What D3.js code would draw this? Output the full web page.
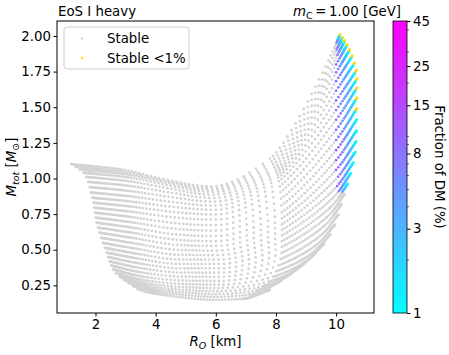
<!DOCTYPE html>
<html><head><meta charset="utf-8">
<script src="https://cdn.jsdelivr.net/npm/d3@7"></script>
<style>body{margin:0;background:#fff}text{font-family:"DejaVu Sans",sans-serif;fill:#000}</style>
</head><body><svg id="c" width="449" height="355"></svg>
<script>
// ---------------- data ----------------
// Key rows of the mesh: row index and control points (R in km, M in Msun) at stations along each row
const keyRowIndex = [0, 3, 8, 14, 19, 24, 29];
const stationV = [0, 0.15, 0.35, 0.55, 0.75, 0.9, 1];
const keyRowR = [
  [1.20, 2.80, 4.40, 5.85, 7.80, 9.97, 10.13],
  [1.60, 3.00, 4.50, 5.90, 7.95, 10.00, 10.37],
  [1.89, 3.10, 4.60, 6.00, 8.10, 10.00, 10.70],
  [2.08, 3.20, 4.70, 6.00, 8.20, 10.00, 10.67],
  [2.37, 3.35, 4.80, 6.10, 8.20, 9.75, 10.28],
  [2.68, 3.50, 4.90, 6.10, 7.90, 9.00, 9.60],
  [3.40, 3.90, 4.90, 5.90, 6.90, 7.40, 7.80]
];
const keyRowM = [
  [1.100, 1.065, 0.990, 0.945, 1.140, 1.930, 2.010],
  [1.040, 1.010, 0.950, 0.905, 1.080, 1.800, 1.940],
  [0.865, 0.840, 0.800, 0.780, 0.980, 1.480, 1.700],
  [0.655, 0.620, 0.570, 0.560, 0.720, 1.060, 1.260],
  [0.480, 0.440, 0.400, 0.400, 0.520, 0.740, 0.890],
  [0.335, 0.290, 0.260, 0.255, 0.310, 0.420, 0.540],
  [0.225, 0.195, 0.165, 0.148, 0.155, 0.185, 0.220]
];
const nRows = 30;
// dot positions along each row
const colV = [
  0, .004, .008, .012, .016, .020, .024, .028, .032, .036, .041, .046, .051, .056, .061, .067, .073, .079, .085, .091, .098, .105, .112, .119, .126, .134, .142, .150,
  .160, .171, .183, .196, .210, .225, .241, .258, .276, .294, .312, .331, .350,
  .370, .390, .410, .430, .450, .470, .490, .510, .530, .550, .570, .590, .610, .630, .650, .670, .690, .710, .730, .750,
  .7575, .765, .7725, .78, .7875, .795, .8025, .81, .8175, .825, .8325, .84, .8475, .855, .8625, .87, .8775, .885, .8925, .900,
  .909, .918, .926, .934, .941, .948, .954, .960, .965, .970, .975, .979, .983, .987, .990, .993, .996, 1.0];
// DM fraction (%) of each column
const colFrac = [
  45, 44.7, 44.4, 44.1, 43.8, 43.5, 43.2, 42.9, 42.6, 42.3, 42, 41.6, 41.2, 40.8, 40.4, 40, 39.6, 39.2, 38.8, 38.4, 38, 37.5, 37, 36.5, 36, 35.5, 35, 34.5,
  34, 33.4, 32.8, 32.2, 31.6, 31, 30.4, 29.8, 29.2, 28.6, 28, 27.4, 26.8,
  26.2, 25.6, 25, 24.4, 23.8, 23.2, 22.6, 22, 21.4, 20.8, 20.2, 19.6, 19, 18.4, 17.8, 17.2, 16.6, 16, 15.4, 14.8,
  14.4, 14, 13.6, 13.2, 12.8, 12.4, 12, 11.7, 11.4, 11.1, 10.8, 10.5, 10.2, 9.9, 9.6, 9.3, 9.0, 8.7, 8.4, 8.1,
  7.2, 6.3, 5.5, 4.8, 4.2, 3.7, 3.25, 2.85, 2.5, 2.2, 1.95, 1.7, 1.5, 1.32, 1.17, 1.04, 0.92, 0.8];
const rowFracScale = [1, 1, 1, 1, 1, 1, 1.01, 1.02, 1.03, 1.04, 1.06, 1.08,
  1.26, 1.27, 1.28, 1.29, 1.3, 1.31, 1.32, 1.33, 1.34, 1.35, 1.36, 1.37, 1.38, 1.39, 1.4, 1.41, 1.42, 1.43];
const colorMinR = 10.0, colorMinM = 0.9;
const xTicks = [2, 4, 6, 8, 10];
const yTicks = [0.25, 0.50, 0.75, 1.00, 1.25, 1.50, 1.75, 2.00];
const cbTicks = [1, 3, 8, 15, 25, 45];
const cbMinor = [2, 4, 5, 6, 7, 9, 10, 20, 30, 40];
const titleLeft = "EoS I heavy";
const legendLabels = ["Stable", "Stable <1%"];
const cbLabel = "Fraction of DM (%)";

// ---------------- helpers: monotone (Steffen) cubic through typed control points ----------------
function mono(ts, ps, t) {
  const n = ts.length;
  let k = 0; while (k < n - 2 && t > ts[k + 1]) k++;
  const d = i => (ps[i + 1] - ps[i]) / (ts[i + 1] - ts[i]);
  const slope = i => {
    if (i === 0) return d(0);
    if (i === n - 1) return d(n - 2);
    const h0 = ts[i] - ts[i - 1], h1 = ts[i + 1] - ts[i], d0 = d(i - 1), d1 = d(i);
    const p = (d0 * h1 + d1 * h0) / (h0 + h1);
    return (Math.sign(d0) + Math.sign(d1)) * Math.min(Math.abs(d0), Math.abs(d1), 0.5 * Math.abs(p));
  };
  const t0 = ts[k], h = ts[k + 1] - t0, s = (t - t0) / h, s2 = s * s, s3 = s2 * s;
  return (2*s3 - 3*s2 + 1) * ps[k] + (s3 - 2*s2 + s) * h * slope(k) + (-2*s3 + 3*s2) * ps[k + 1] + (s3 - s2) * h * slope(k + 1);
}
const cool = t => { t = Math.max(0, Math.min(1, t)); return d3.rgb(255 * t, 255 * (1 - t), 255).formatHex(); };

const pts = [];
for (let i = 0; i < nRows; i++) {
  const rR = stationV.map((_, s) => mono(keyRowIndex, keyRowR.map(r => r[s]), i));
  const rM = stationV.map((_, s) => mono(keyRowIndex, keyRowM.map(r => r[s]), i));
  colV.forEach((v, j) => {
    pts.push({R: mono(stationV, rR, v), M: mono(stationV, rM, v), f: colFrac[j] * rowFracScale[i]});
  });
}

// ---------------- drawing ----------------
const svg = d3.select("#c");
svg.append("rect").attr("width", 449).attr("height", 355).attr("fill", "#fff");
const L = 57, Rt = 374, T = 21, B = 313;
const x = d3.scaleLinear().domain([0.72, 11.26]).range([L, Rt]);
const y = d3.scaleLinear().domain([0.056, 2.105]).range([B, T]);
const cbScale = d3.scaleLog().domain([1, 45]).range([B, T]);

const isCol = p => p.R >= colorMinR && p.M >= colorMinM;
const g = svg.append("g");
g.append("g").selectAll("circle").data(pts.filter(p => !isCol(p))).join("circle")
  .attr("cx", d => x(d.R)).attr("cy", d => y(d.M)).attr("r", 1.35).attr("fill", "#d3d3d3");
g.append("g").selectAll("circle").data(pts.filter(p => isCol(p) && p.f >= 1)).join("circle")
  .attr("cx", d => x(d.R)).attr("cy", d => y(d.M)).attr("r", 1.35)
  .attr("fill", d => cool(Math.log(d.f) / Math.log(45)));
g.append("g").selectAll("circle").data(pts.filter(p => isCol(p) && p.f < 1)).join("circle")
  .attr("cx", d => x(d.R)).attr("cy", d => y(d.M)).attr("r", 1.35).attr("fill", "#ffd700");

// axes
const fs = "13.33px";
const ax = svg.append("g").attr("transform", `translate(0,${B})`)
  .call(d3.axisBottom(x).tickValues(xTicks).tickFormat(d3.format("d")).tickSize(3.5).tickPadding(3.5));
const ay = svg.append("g").attr("transform", `translate(${L},0)`)
  .call(d3.axisLeft(y).tickValues(yTicks).tickFormat(d3.format(".2f")).tickSize(3.5).tickPadding(2.5));
[ax, ay].forEach(a => {
  a.select(".domain").remove();
  a.selectAll("line").attr("stroke", "#000").attr("stroke-width", 1);
  a.selectAll("text").attr("font-size", fs).attr("font-family", "DejaVu Sans").attr("fill", "#000");
});
svg.append("rect").attr("x", L).attr("y", T).attr("width", Rt - L).attr("height", B - T)
  .attr("fill", "none").attr("stroke", "#000").attr("stroke-width", 1);

// titles
svg.append("text").attr("x", 58).attr("y", 16).attr("font-size", fs).text(titleLeft);
const tr = svg.append("text").attr("x", 401).attr("y", 16).attr("font-size", fs).attr("text-anchor", "end");
tr.append("tspan").attr("font-style", "italic").text("m");
tr.append("tspan").attr("dy", 2.5).attr("font-size", "9.5px").text("C");
tr.append("tspan").attr("dy", -2.5).text("\u2009=\u20091.00 [GeV]");

// axis labels
const xl = svg.append("text").attr("x", (L + Rt) / 2).attr("y", 346).attr("font-size", fs).attr("text-anchor", "middle");
xl.append("tspan").attr("font-style", "italic").text("R");
xl.append("tspan").attr("dy", 2.5).attr("font-size", "9.5px").attr("font-style", "italic").text("O");
xl.append("tspan").attr("dy", -2.5).text(" [km]");
const yl = svg.append("text").attr("transform", `translate(16,${(T + B) / 2}) rotate(-90)`).attr("font-size", fs).attr("text-anchor", "middle");
yl.append("tspan").attr("font-style", "italic").text("M");
yl.append("tspan").attr("dy", 2.5).attr("font-size", "9.5px").attr("font-style", "italic").text("tot");
yl.append("tspan").attr("dy", -2.5).text(" [");
yl.append("tspan").attr("font-style", "italic").text("M");
yl.append("tspan").attr("dy", 2.5).attr("font-size", "9.5px").text("\u2299");
yl.append("tspan").attr("dy", -2.5).text("]");

// legend
const lg = svg.append("g");
lg.append("rect").attr("x", 64).attr("y", 27).attr("width", 125).attr("height", 42).attr("rx", 3)
  .attr("fill", "#fff").attr("fill-opacity", 0.8).attr("stroke", "#ccc").attr("stroke-width", 1);
lg.append("circle").attr("cx", 82).attr("cy", 38.5).attr("r", 1.2).attr("fill", "#d3d3d3");
lg.append("circle").attr("cx", 82).attr("cy", 58).attr("r", 1.2).attr("fill", "#ffd700");
lg.append("text").attr("x", 107).attr("y", 43).attr("font-size", fs).text(legendLabels[0]);
lg.append("text").attr("x", 107).attr("y", 62.5).attr("font-size", fs).text(legendLabels[1]);

// colorbar
const cbx = 393, cbw = 14;
const defs = svg.append("defs");
const grad = defs.append("linearGradient").attr("id", "cg").attr("x1", 0).attr("y1", 1).attr("x2", 0).attr("y2", 0);
d3.range(0, 1.0001, 0.1).forEach(t => grad.append("stop").attr("offset", t).attr("stop-color", cool(t)));
svg.append("rect").attr("x", cbx).attr("y", T).attr("width", cbw).attr("height", B - T).attr("fill", "url(#cg)");
const cba = svg.append("g").attr("transform", `translate(${cbx + cbw},0)`)
  .call(d3.axisRight(cbScale).tickValues(cbTicks).tickFormat(d3.format("d")).tickSize(3.5).tickPadding(2.5));
cba.select(".domain").remove();
cba.selectAll("line").attr("stroke", "#000");
cba.selectAll("text").attr("font-size", fs).attr("font-family", "DejaVu Sans").attr("fill", "#000");
svg.append("g").selectAll("line").data(cbMinor).join("line")
  .attr("x1", cbx + cbw).attr("x2", cbx + cbw + 2).attr("y1", d => cbScale(d)).attr("y2", d => cbScale(d))
  .attr("stroke", "#000").attr("stroke-width", 0.6);
svg.append("rect").attr("x", cbx).attr("y", T).attr("width", cbw).attr("height", B - T)
  .attr("fill", "none").attr("stroke", "#000").attr("stroke-width", 0.8);
svg.append("text").attr("transform", `translate(435,${(T + B) / 2}) rotate(90)`).attr("font-size", fs)
  .attr("text-anchor", "middle").text(cbLabel);
</script></body></html>
